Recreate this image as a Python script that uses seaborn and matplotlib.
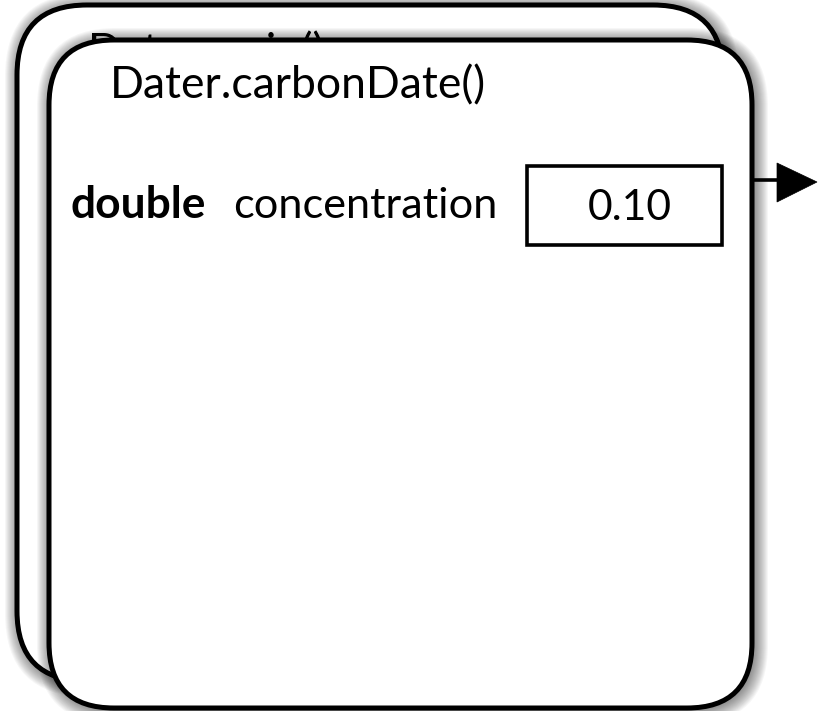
import matplotlib
matplotlib.use("Agg")
import matplotlib.pyplot as plt
import seaborn as sns
from matplotlib.patches import FancyBboxPatch, Rectangle, Polygon

# ---- data ----
frame_names = ["Dater.main()", "Dater.carbonDate()"]
var_types = ["double"]
var_names = ["concentration"]
var_values = [0.10]

sns.set_theme(style="white")
plt.rcParams["font.family"] = ["Lato", "DejaVu Sans"]

W, H = 821, 711
fig = plt.figure(figsize=(W / 100, H / 100), dpi=100)
ax = fig.add_axes([0, 0, 1, 1])
ax.set_xlim(0, W)
ax.set_ylim(H, 0)
ax.axis("off")
fig.patch.set_facecolor("white")

renderer = fig.canvas.get_renderer()


def fit_text(x, y, s, width, ha="left", weight="normal", z=5):
    t = ax.text(x, y, s, ha=ha, va="baseline", fontsize=30,
                fontweight=weight, color="black", zorder=z)
    w = t.get_window_extent(renderer).width
    t.set_fontsize(30 * width / w)
    return t


def frame(x0, y0, x1, y1, r, z):
    # soft shadow
    n = 14
    for k in range(n, 0, -1):
        ax.add_patch(FancyBboxPatch((x0 - k + 2, y0 - k + 2), (x1 - x0) + 2 * k,
                                    (y1 - y0) + 2 * k,
                                    boxstyle=f"round,pad=0,rounding_size={r + k}",
                                    facecolor="black", edgecolor="none",
                                    alpha=0.035, zorder=z))
    ax.add_patch(FancyBboxPatch((x0, y0), x1 - x0, y1 - y0,
                                boxstyle=f"round,pad=0,rounding_size={r}",
                                facecolor="white", edgecolor="black",
                                linewidth=3.6, zorder=z + 0.1))


# back frame
frame(17, 5, 723, 681, 70, 1)
hidden = fit_text(88, 65, frame_names[0], 236, z=1.5)
clip = Rectangle((0, 0), W, 40, transform=ax.transData)
hidden.set_clip_path(clip)

# front frame
frame(49, 40, 752, 708, 65, 2)
fit_text(110, 98, frame_names[1], 375, z=3)

# variable row
fit_text(70, 218, var_types[0], 135, weight="bold", z=3)
fit_text(233, 218, var_names[0], 264, z=3)
ax.add_patch(Rectangle((527, 166), 722 - 527, 245 - 166, facecolor="white",
                       edgecolor="black", linewidth=2.6, zorder=3))
fit_text(630, 220, f"{var_values[0]:.2f}", 84, ha="center", z=4)

# arrow out of the frame
ax.plot([752, 779], [180, 180], color="black", linewidth=2.6, zorder=4,
        solid_capstyle="butt")
ax.add_patch(Polygon([[777, 163], [817, 182], [777, 202]], closed=True,
                     facecolor="black", edgecolor="black", linewidth=0.5, zorder=4))

fig.savefig("out.png", dpi=100)
